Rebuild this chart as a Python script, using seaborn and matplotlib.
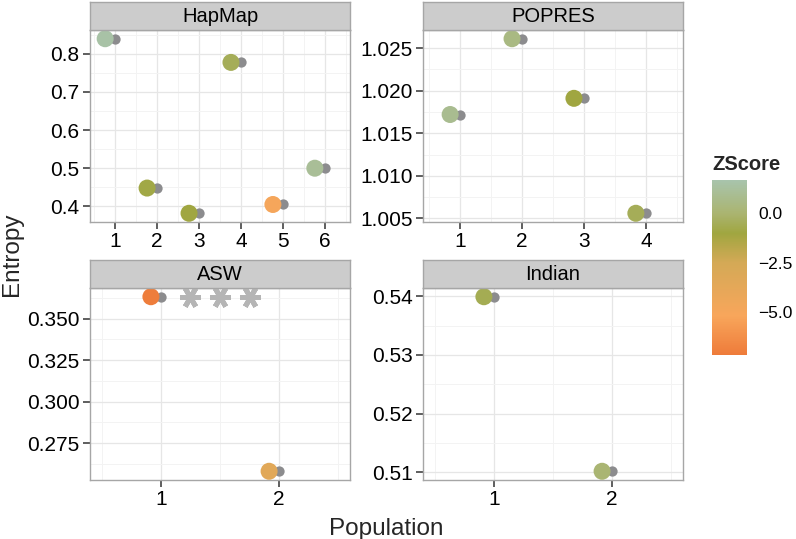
import numpy as np
import pandas as pd
import matplotlib
matplotlib.use("Agg")
import matplotlib.pyplot as plt
import matplotlib.ticker as mticker
from matplotlib.colors import LinearSegmentedColormap, Normalize
from matplotlib.transforms import ScaledTranslation
import seaborn as sns

# data
panels = ["HapMap", "POPRES", "ASW", "Indian"]
hapmap_entropy = [0.839, 0.448, 0.382, 0.777, 0.405, 0.500]
hapmap_z = [1.5, -0.9, -1.0, -0.5, -5.0, 1.1]
popres_entropy = [1.0172, 1.0261, 1.0191, 1.0056]
popres_z = [0.9, 0.5, -1.0, -0.5]
asw_entropy = [0.3632, 0.2580]
asw_z = [-7.1, -3.5]
indian_entropy = [0.5399, 0.5102]
indian_z = [-0.6, 0.1]
star_x = [1.25, 1.5, 1.75]
star_y = 0.3632

entropy = [hapmap_entropy, popres_entropy, asw_entropy, indian_entropy]
zscores = [hapmap_z, popres_z, asw_z, indian_z]
y_steps = [0.1, 0.005, 0.025, 0.01]
y_fmt = ["%.1f", "%.3f", "%.3f", "%.2f"]
cbar_ticks = [0.0, -2.5, -5.0]

z_lo, z_hi = -7.2, 1.7
cmap = LinearSegmentedColormap.from_list("zs", [
    (0.0, "#EE7B3A"),
    ((-5.2 - z_lo) / (z_hi - z_lo), "#F8A65B"),
    ((-2.5 - z_lo) / (z_hi - z_lo), "#D4A956"),
    ((-1.0 - z_lo) / (z_hi - z_lo), "#A0A640"),
    ((0.0 - z_lo) / (z_hi - z_lo), "#AAB470"),
    (1.0, "#A8C4AC"),
])
norm = Normalize(z_lo, z_hi)

sns.set_theme(style="whitegrid")
plt.rcParams["font.family"] = ["Liberation Sans", "DejaVu Sans"]

W, H = 796, 539
fig = plt.figure(figsize=(W / 100, H / 100), dpi=100)

# pixel boxes (left, top, right, bottom)
boxes = [(90, 30, 350, 222), (423, 30, 683, 222),
         (90, 288, 350, 480), (423, 288, 683, 480)]
strip_h = 28

def fbox(l, t, r, b):
    return [l / W, (H - b) / H, (r - l) / W, (b - t) / H]

shift = ScaledTranslation(-10 / 100, 0, fig.dpi_scale_trans)

for i, name in enumerate(panels):
    l, t, r, b = boxes[i]
    ax = fig.add_axes(fbox(l, t, r, b))
    y = entropy[i]
    n = len(y)
    df = pd.DataFrame({"Population": np.arange(1, n + 1), "Entropy": y, "ZScore": zscores[i]})

    sns.scatterplot(data=df, x="Population", y="Entropy", color="#8C8C8E", s=55,
                    linewidth=0, ax=ax, zorder=3)
    sns.scatterplot(data=df, x="Population", y="Entropy", hue="ZScore", palette=cmap,
                    hue_norm=norm, s=150, linewidth=0, legend=False, ax=ax, zorder=4)
    ax.collections[-1].set_offset_transform(ax.transData + shift)

    ax.set_xlim(0.4, n + 0.6)
    pad = (max(y) - min(y)) * 0.05
    ax.set_ylim(min(y) - pad, max(y) + pad)
    ax.set_xticks(range(1, n + 1))
    ax.xaxis.set_minor_locator(mticker.MultipleLocator(0.5))
    ax.yaxis.set_major_locator(mticker.MultipleLocator(y_steps[i]))
    ax.yaxis.set_minor_locator(mticker.MultipleLocator(y_steps[i] / 2))
    ax.yaxis.set_major_formatter(mticker.FormatStrFormatter(y_fmt[i]))
    ax.set_facecolor("white")
    ax.grid(which="major", color="#E6E6E6", lw=0.9)
    ax.grid(which="minor", color="#F3F3F3", lw=0.7)
    ax.set_axisbelow(True)
    for sp in ax.spines.values():
        sp.set_color("#A6A6A6")
        sp.set_linewidth(1.0)
    ax.tick_params(which="major", axis="both", direction="out", length=5, width=1.1,
                   color="#333333", labelsize=15, labelcolor="black", pad=2.5,
                   left=True, bottom=True)
    ax.tick_params(which="minor", length=0)
    ax.set_xlabel("")
    ax.set_ylabel("")

    if name == "ASW":
        # significance stars
        ax.plot(star_x, [star_y] * len(star_x), linestyle="none", marker=(6, 2, 90),
                markersize=15, markeredgewidth=3.6, color="#B5B5B5", zorder=5)

    sax = fig.add_axes(fbox(l, t - strip_h, r, t))
    sax.set_facecolor("#CCCCCC")
    sax.set_xticks([])
    sax.set_yticks([])
    for sp in sax.spines.values():
        sp.set_color("#A6A6A6")
        sp.set_linewidth(1.0)
    sax.text(0.5, 0.47, name, ha="center", va="center", fontsize=14.5, color="black",
             transform=sax.transAxes)

fig.text(12 / W, 1 - 254 / H, "Entropy", rotation=90, ha="center", va="center", fontsize=17.5)
fig.text(386 / W, 1 - 535 / H, "Population", ha="center", va="baseline", fontsize=17.5)

# colour bar
cax = fig.add_axes(fbox(712, 180, 747, 355))
sm = plt.cm.ScalarMappable(cmap=cmap, norm=norm)
cb = fig.colorbar(sm, cax=cax)
cb.outline.set_visible(False)
cb.set_ticks(cbar_ticks)
cb.set_ticklabels(["0.0", "\u22122.5", "\u22125.0"])
cax.tick_params(left=True, right=True, direction="in", length=7, width=1,
                color="white", labelcolor="black", labelsize=12.5, pad=8)
fig.text(712 / W, 1 - 164 / H, "ZScore", fontsize=14.5, fontweight="bold", va="center", ha="left")

fig.savefig("out.png", dpi=100)
